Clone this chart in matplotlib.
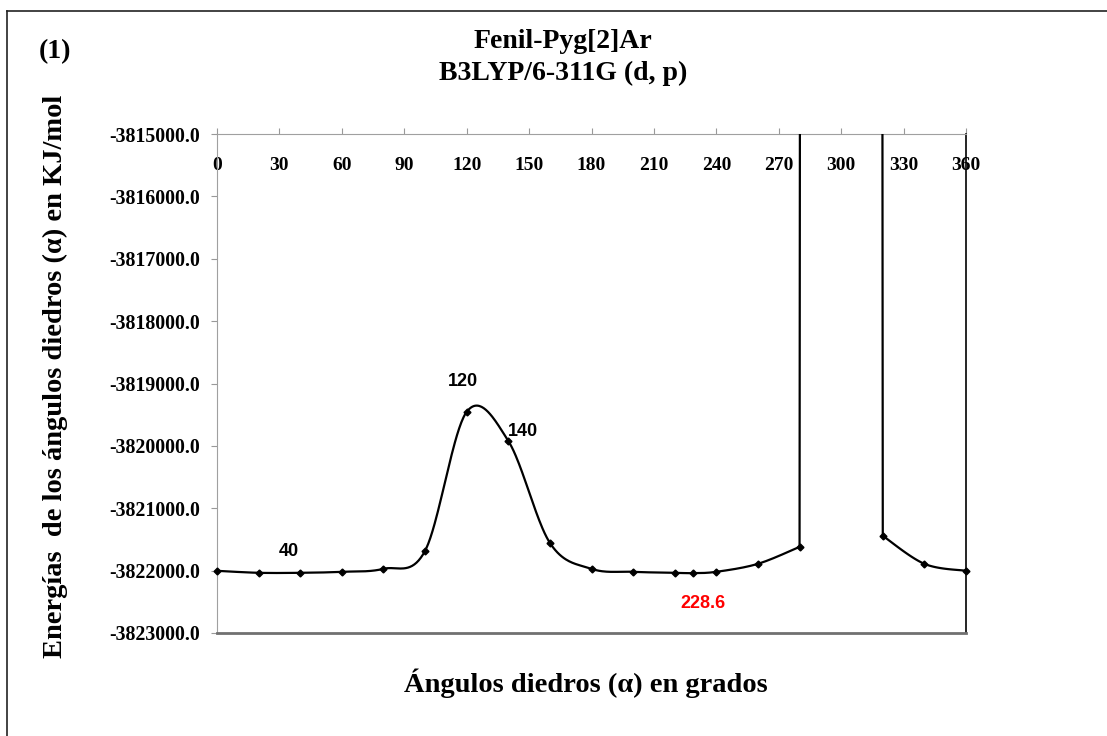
import numpy as np
import matplotlib
matplotlib.use('Agg')
import matplotlib.pyplot as plt
from matplotlib.lines import Line2D

# dihedral scan, energies in kJ/mol (the 300 point lies far off the chart)
angles_a   = [0, 20, 40, 60, 80, 100, 120, 140, 160, 180, 200, 220, 228.6, 240, 260, 280]
energies_a = [-3822003, -3822035, -3822035, -3822019, -3821971, -3821683, -3819455,
              -3819920, -3821555, -3821971, -3822019, -3822035, -3822040, -3822019,
              -3821891, -3821619]
angle_off  = 300
energy_off = -3000000
angles_b   = [320, 340, 360]
energies_b = [-3821442, -3821891, -3822003]

xticks = list(range(0, 361, 30))
yticks = list(range(-3815000, -3823001, -1000))

# point labels: (angle, text, colour, offset in points)
point_labels = [(40, "40", "black", (-8.5, 15)),
                (120, "120", "black", (-3, 22)),
                (140, "140", "black", (10.5, 6.5)),
                (228.6, "228.6", "red", (7.5, -22))]

SERIF = "Liberation Serif"
SANS = "Liberation Sans"


def smooth(xs, ys, n=40):
    # Bezier smoothing through every point, like a spreadsheet "smoothed line"
    p = np.column_stack([xs, ys]).astype(float)
    ext = np.vstack([p[0], p, p[-1]])
    t = np.linspace(0, 1, n)[:, None]
    out = []
    for i in range(len(p) - 1):
        p0, p1, p2, p3 = ext[i], ext[i + 1], ext[i + 2], ext[i + 3]
        c1 = p1 + (p2 - p0) / 6
        c2 = p2 - (p3 - p1) / 6
        b = (1 - t)**3 * p1 + 3 * (1 - t)**2 * t * c1 + 3 * (1 - t) * t**2 * c2 + t**3 * p2
        out.append(b if i == 0 else b[1:])
    return np.vstack(out)


fig = plt.figure(figsize=(11.07, 7.36), dpi=100, facecolor="white")
ax = fig.add_axes([217 / 1107, 1 - 633 / 736, 749 / 1107, 499 / 736])

lw = 1.6
ca = smooth(angles_a, energies_a)
cb = smooth(angles_b, energies_b)
ax.plot(ca[:, 0], ca[:, 1], color="black", lw=lw, zorder=3)
ax.plot(cb[:, 0], cb[:, 1], color="black", lw=lw, zorder=3)
ax.plot([angles_a[-1], angle_off, angles_b[0]], [energies_a[-1], energy_off, energies_b[0]],
        color="black", lw=lw, zorder=3)
ax.plot(angles_a + angles_b, energies_a + energies_b, ls="none", marker="D",
        ms=3.5, color="black", zorder=4, clip_on=False)

for ang, txt, col, off in point_labels:
    e = energies_a[angles_a.index(ang)]
    ax.annotate(txt, (ang, e), xytext=off, textcoords="offset points",
                ha="center", va="center", color=col, fontsize=13,
                fontweight="bold", family=SANS)

ax.set_xlim(0, 360)
ax.set_ylim(-3823000, -3815000)
ax.set_xticks(xticks)
ax.set_yticks(yticks)
ax.set_yticklabels([f"{v:.1f}" for v in yticks], family=SERIF,
                   fontweight="bold", fontsize=14.3)
ax.set_xticklabels([str(v) for v in xticks], family=SERIF,
                   fontweight="bold", fontsize=14)
ax.tick_params(axis="x", top=True, bottom=False, labeltop=True, labelbottom=False,
               direction="out", length=4, color="#999999", pad=-33)
ax.tick_params(axis="y", direction="out", length=4, color="#999999", pad=8)

ax.spines["top"].set_color("#a0a0a0")
ax.spines["left"].set_color("#a0a0a0")
ax.spines["bottom"].set_color("#707070")
ax.spines["bottom"].set_linewidth(2)
ax.spines["right"].set_color("black")
ax.spines["right"].set_linewidth(1.2)

fig.text(55 / 1107, 1 - 52 / 736, "(1)", family=SERIF, fontweight="bold",
         fontsize=20, ha="center", va="center")
fig.text(563 / 1107, 1 - 42 / 736, "Fenil-Pyg[2]Ar", family=SERIF, fontweight="bold",
         fontsize=20, ha="center", va="center")
fig.text(563 / 1107, 1 - 73 / 736, "B3LYP/6-311G (d, p)", family=SERIF, fontweight="bold",
         fontsize=20, ha="center", va="center")
fig.text(55 / 1107, 1 - 376 / 736, "Energías  de los ángulos diedros (α) en KJ/mol",
         family=SERIF, fontweight="bold", fontsize=20.5, rotation=90,
         ha="center", va="center")
fig.text(586 / 1107, 1 - 683 / 736, "Ángulos diedros (α) en grados",
         family=SERIF, fontweight="bold", fontsize=20.5, ha="center", va="center")

# outer frame (only left and top edges visible)
fig.add_artist(Line2D([7 / 1107, 7 / 1107], [0, 1 - 11 / 736], transform=fig.transFigure,
                      color="#222222", lw=1.2))
fig.add_artist(Line2D([7 / 1107, 1], [1 - 11 / 736, 1 - 11 / 736], transform=fig.transFigure,
                      color="#222222", lw=1.2))

fig.savefig("out.png", dpi=100)
